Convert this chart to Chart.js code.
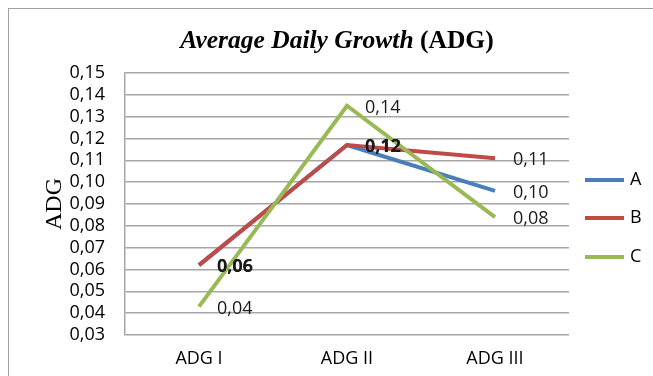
<!DOCTYPE html>
<html><head><meta charset="utf-8">
<script src="https://cdn.jsdelivr.net/npm/chart.js@4/dist/chart.umd.min.js"></script>
<style>
html,body{margin:0;padding:0;background:#fff;}
#wrap{position:relative;width:653px;height:376px;overflow:hidden;}
#frame{position:absolute;left:8px;top:8px;width:700px;height:400px;border-left:1.5px solid #a0a0a0;border-top:1.5px solid #a0a0a0;}
#title{position:absolute;left:0;top:25px;width:674px;text-align:center;font-family:"Liberation Serif",serif;font-weight:bold;font-size:25.5px;color:#000;}
canvas{position:absolute;left:0;top:0;}
</style></head><body>
<div id="wrap">
<div id="frame"></div>
<canvas id="c" width="653" height="376"></canvas>
<div id="title"><i>Average Daily Growth</i> (ADG)</div>
</div>
<script>
const categories = ["ADG I", "ADG II", "ADG III"];
const seriesNames = ["A", "B", "C"];
const valuesA = [0.062, 0.117, 0.096];
const valuesB = [0.062, 0.117, 0.111];
const valuesC = [0.043, 0.135, 0.084];
const labelsA = ["0,06", "0,12", "0,10"];
const labelsB = ["0,06", "0,12", "0,11"];
const labelsC = ["0,04", "0,14", "0,08"];
const colors = ["#4a7ebb", "#be4b48", "#98b954"];

const FONT = "'Open Sans', sans-serif";

const dataLabelPlugin = {
  id: 'dl',
  afterDatasetsDraw(chart) {
    const ctx = chart.ctx;
    const all = [labelsA, labelsB, labelsC];
    const drawn = [];
    ctx.save();
    ctx.fillStyle = "#1a1a1a";
    ctx.textBaseline = "middle";
    ctx.textAlign = "left";
    chart.data.datasets.forEach((ds, i) => {
      const meta = chart.getDatasetMeta(i);
      meta.data.forEach((pt, j) => {
        const x = pt.x + 18, y = pt.y + 2, txt = all[i][j];
        const dup = drawn.some(d => d.t === txt && Math.abs(d.x - x) < 3 && Math.abs(d.y - y) < 3);
        ctx.font = (dup ? "bold " : "") + "18px " + FONT;
        ctx.fillText(txt, x, y);
        drawn.push({t: txt, x, y});
      });
    });
    ctx.restore();
  }
};

const legendPlugin = {
  id: 'lg',
  afterDraw(chart) {
    const ctx = chart.ctx;
    ctx.save();
    ctx.font = "18px " + FONT;
    ctx.textBaseline = "middle";
    ctx.fillStyle = "#000";
    const ys = [180, 218, 257];
    chart.data.datasets.forEach((ds, i) => {
      ctx.strokeStyle = ds.borderColor;
      ctx.lineWidth = 4;
      ctx.beginPath();
      ctx.moveTo(585, ys[i]);
      ctx.lineTo(624, ys[i]);
      ctx.stroke();
      ctx.fillText(ds.label, 630, ys[i]);
    });
    ctx.restore();
  }
};

new Chart(document.getElementById('c'), {
  type: 'line',
  data: {
    labels: categories,
    datasets: [
      {label: seriesNames[0], data: valuesA, borderColor: colors[0], order: 3},
      {label: seriesNames[1], data: valuesB, borderColor: colors[1], order: 2},
      {label: seriesNames[2], data: valuesC, borderColor: colors[2], order: 1}
    ].map(d => Object.assign(d, {borderWidth: 4, pointRadius: 0, tension: 0, fill: false, borderCapStyle: 'butt', borderJoinStyle: 'miter'}))
  },
  options: {
    responsive: false,
    animation: false,
    layout: {padding: {left: 40, right: 84, top: 73, bottom: 0}},
    plugins: {legend: {display: false}, tooltip: {enabled: false}, title: {display: false}},
    scales: {
      x: {
        offset: true,
        afterFit(s) { s.height = 41; },
        grid: {display: false, drawTicks: false},
        border: {display: false},
        ticks: {font: {family: FONT, size: 18}, color: '#000', padding: 13}
      },
      y: {
        min: 0.03, max: 0.15,
        afterBuildTicks(s) {
          const t = [];
          for (let k = 3; k <= 15; k++) t.push({value: k / 100});
          s.ticks = t;
        },
        afterFit(s) { s.width = 85; },
        grid: {color: '#a6a6a6', lineWidth: 1.5, drawTicks: false},
        border: {display: true, color: '#a6a6a6', width: 1.5},
        ticks: {
          autoSkip: false,
          font: {family: FONT, size: 18}, color: '#000', padding: 20,
          callback: v => v.toFixed(2).replace('.', ',')
        },
        title: {display: true, text: 'ADG', font: {family: "'Liberation Serif', serif", size: 24}, color: '#000', padding: 0}
      }
    }
  },
  plugins: [dataLabelPlugin, legendPlugin]
});
</script>
</body></html>
